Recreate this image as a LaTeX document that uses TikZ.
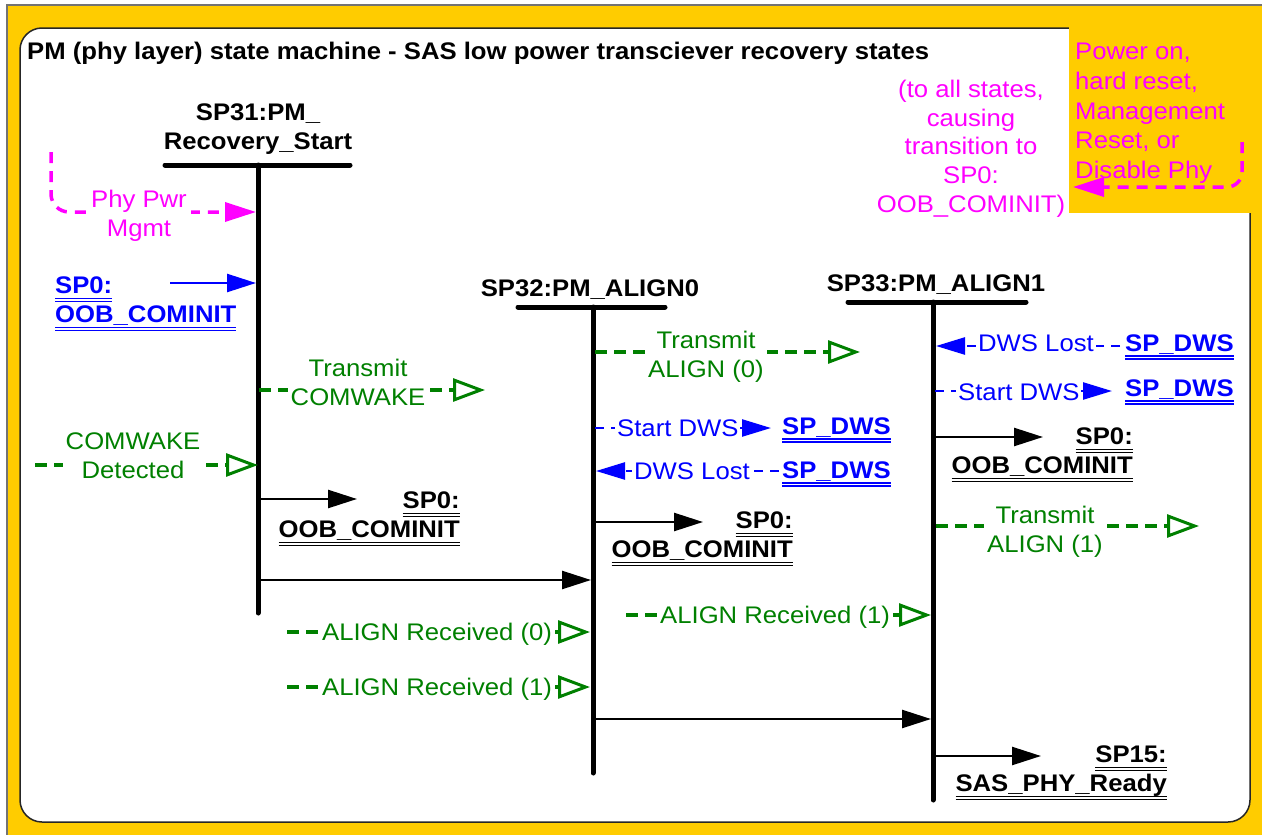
\documentclass[tikz,border=0pt]{standalone}
\usepackage{fontspec}
\setmainfont{Liberation Sans}[FakeStretch=1.07]
\usetikzlibrary{arrows.meta}
\definecolor{yel}{HTML}{FFCC00}
\definecolor{grn}{HTML}{008000}
\definecolor{blu}{HTML}{0000FF}
\definecolor{mag}{HTML}{FF00FF}
\newcommand\dul[1]{\setbox0=\hbox{#1}\rlap{\rule[-5pt]{\wd0}{1.3pt}}\rlap{\rule[-8pt]{\wd0}{1.3pt}}\box0}
\begin{document}
\begin{tikzpicture}[x=1pt,y=-1pt,
  every node/.style={inner sep=0pt, font=\fontsize{24}{29}\selectfont},
  bfont/.style={font=\bfseries\fontsize{24}{29}\selectfont},
  lab/.style={align=center},
  gtxt/.style={text=grn, fill=white, inner xsep=3pt},
  btxt/.style={text=blu, fill=white, inner xsep=2pt},
  link/.style={bfont, text=blu, align=left},
  blk/.style={bfont, align=right},
  state/.style={bfont, align=center},
  bar/.style={line width=5pt, line cap=round},
  barrow/.style={line width=2.5pt, -{Triangle[length=29pt,width=18pt]}},
  bsolid/.style={blu, line width=2.5pt, -{Triangle[length=29pt,width=18pt]}},
  gdash/.style={grn, line width=3.5pt, dash pattern=on 12pt off 7pt, -{Triangle[open,length=32pt,width=23pt,line width=3pt]}},
  bdash/.style={blu, line width=2.5pt, dash pattern=on 9pt off 7pt, -{Triangle[length=29pt,width=17pt]}},
  magd/.style={mag, line width=3.5pt, dash pattern=on 11pt off 8pt, -{Triangle[length=31pt,width=19pt]}}
]
\useasboundingbox (0,0) rectangle (1262,835);
% background
\fill[white] (0,0) rectangle (1262,835);
\fill[yel] (7,5) rectangle (1262,835);
\draw[black!55, line width=1.5pt] (7,835) -- (7,5) -- (1262,5);
\draw[line width=1.5pt, fill=white, draw=black!85, rounded corners=22pt] (20,28) rectangle (1250,822);
\fill[yel] (1069,26) rectangle (1262,213);

% title
\node[bfont, anchor=north west] (title) at (27,42) {PM (phy layer) state machine - SAS low power transciever recovery states};

% states
\node[state, anchor=north] (s31) at (258,104) {SP31:PM\_\\Recovery\_Start};
\node[state, anchor=north] (s32) at (590,280) {SP32:PM\_ALIGN0};
\node[state, anchor=north] (s33) at (936,275) {SP33:PM\_ALIGN1};
\coordinate (b31l) at (165,165); \coordinate (b31r) at (350,165);
\coordinate (v31t) at (258,165); \coordinate (v31b) at (258,613);
\coordinate (b32l) at (518,307); \coordinate (b32r) at (665,307);
\coordinate (v32t) at (593,307); \coordinate (v32b) at (593,773);
\coordinate (b33l) at (848,302); \coordinate (b33r) at (1026,302);
\coordinate (v33t) at (933,302); \coordinate (v33b) at (933,800);
\draw[bar] (b31l) -- (b31r); \draw[bar] (v31t) -- (v31b);
\draw[bar] (b32l) -- (b32r); \draw[bar] (v32t) -- (v32b);
\draw[bar] (b33l) -- (b33r); \draw[bar] (v33t) -- (v33b);

% SP31 inputs
\coordinate (ppm0) at (51,152);
\draw[magd, rounded corners=18pt] (ppm0) -- (51,212) -- (256,212);
\node[lab, text=mag, fill=white, inner xsep=4pt, anchor=north] (ppm) at (139,190) {Phy Pwr\\Mgmt};

\node[link, anchor=north west] (sp0a) at (55,277) {\dul{SP0:}\\\dul{OOB\_COMINIT}};
\draw[bsolid] (170,283) -- (256,283);

\draw[gdash] (259,390) -- (485,390);
\node[lab, gtxt, anchor=north] (tcw) at (358,359) {Transmit\\COMWAKE};

\draw[gdash] (35,465) -- (258,465);
\node[lab, gtxt, anchor=north] (cwd) at (133,433) {COMWAKE\\Detected};

\node[blk, anchor=north east] (sp0b) at (460,492) {\dul{SP0:}\\\dul{OOB\_COMINIT}};
\draw[barrow] (260,499) -- (357,499);

\draw[barrow] (260,580) -- (591,580);

\draw[gdash] (287,632) -- (590,632);
\node[gtxt, anchor=base west] (ar0) at (319,640) {ALIGN Received (0)};
\draw[gdash] (287,687) -- (590,687);
\node[gtxt, anchor=base west] (ar1a) at (319,695.5) {ALIGN Received (1)};

% SP32
\draw[gdash] (595,352) -- (860,352);
\node[lab, gtxt, anchor=north] (ta0) at (706,331) {Transmit\\ALIGN (0)};

\node[link, anchor=base west] (dws1) at (782,434.5) {\dul{SP\_DWS}};
\draw[bdash] (595,428) -- (771,428);
\node[btxt, anchor=base west] (sd1) at (615,436.5) {Start DWS};

\node[link, anchor=base west] (dws2) at (782,478.5) {\dul{SP\_DWS}};
\draw[bdash] (779,471) -- (596,471);
\node[btxt, anchor=base west] (dl1) at (632,479.5) {DWS Lost};

\node[blk, anchor=north east] (sp0c) at (793,512) {\dul{SP0:}\\\dul{OOB\_COMINIT}};
\draw[barrow] (596,522) -- (703,522);

\draw[gdash] (626,615) -- (931,615);
\node[gtxt, anchor=base west] (ar1b) at (657,623.5) {ALIGN Received (1)};

\draw[barrow] (596,719) -- (931,719);

% SP33
\node[link, anchor=base west] (dws3) at (1125,351.5) {\dul{SP\_DWS}};
\draw[bdash] (1120,346) -- (936,346);
\node[btxt, anchor=base west] (dl2) at (976,351.5) {DWS Lost};

\node[link, anchor=base west] (dws4) at (1125,396.5) {\dul{SP\_DWS}};
\draw[bdash] (935,391) -- (1112,391);
\node[btxt, anchor=base west] (sd2) at (956,400.5) {Start DWS};

\node[blk, anchor=north east] (sp0d) at (1133,428) {\dul{SP0:}\\\dul{OOB\_COMINIT}};
\draw[barrow] (936,437) -- (1043,437);

\draw[gdash] (936,526) -- (1199,526);
\node[lab, gtxt, anchor=north] (ta1) at (1045,506) {Transmit\\ALIGN (1)};

\node[blk, anchor=north east] (sp15) at (1167,746) {\dul{SP15:}\\\dul{SAS\_PHY\_Ready}};
\draw[barrow] (936,756) -- (1041,756);

% top right
\node[text=mag, align=left, anchor=north west, font=\fontsize{24}{29.7}\selectfont] (pwr) at (1075,43) {Power on,\\hard reset,\\Management\\Reset, or\\Disable Phy};
\draw[magd, rounded corners=15pt] (1242,142) -- (1242,187) -- (1073,187);
\node[text=mag, align=center, anchor=north, font=\fontsize{24}{28.7}\selectfont] (toall) at (971,80) {(to all states,\\causing\\transition to\\SP0:\\OOB\_COMINIT)};
\end{tikzpicture}
\end{document}
